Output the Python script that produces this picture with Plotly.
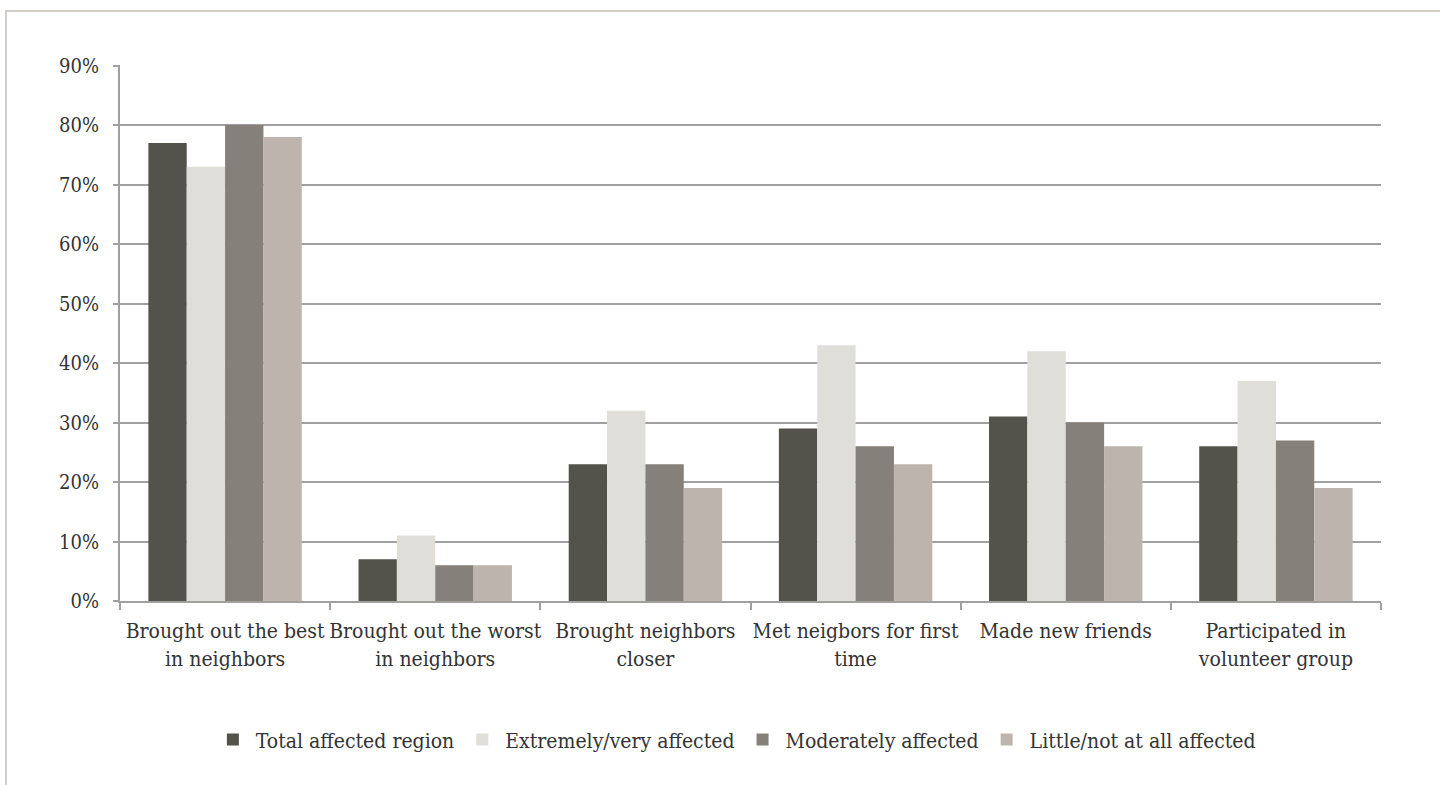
import plotly.graph_objects as go

categories = [
    "Brought out the best<br>in neighbors",
    "Brought out the worst<br>in neighbors",
    "Brought neighbors<br>closer",
    "Met neigbors for first<br>time",
    "Made new friends",
    "Participated in<br>volunteer group",
]
series_names = [
    "Total affected region",
    "Extremely/very affected",
    "Moderately affected",
    "Little/not at all affected",
]
total_affected = [77, 7, 23, 29, 31, 26]
extremely_very = [73, 11, 32, 43, 42, 37]
moderately = [80, 6, 23, 26, 30, 27]
little_not = [78, 6, 19, 23, 26, 19]
y_ticks = [0, 10, 20, 30, 40, 50, 60, 70, 80, 90]

colors = ["#53534b", "#e0ded8", "#858079", "#bdb5ad"]
font_family = "DejaVu Serif Condensed, DejaVu Serif"
text_color = "#333333"

fig = go.Figure()
for name, vals, col in zip(series_names,
                           [total_affected, extremely_very, moderately, little_not],
                           colors):
    fig.add_trace(go.Bar(name=name, x=categories, y=vals, marker_color=col,
                         marker_line_width=0))

fig.update_layout(
    width=1440, height=785,
    margin=dict(l=120, r=59, t=65, b=184),
    paper_bgcolor="white", plot_bgcolor="white",
    barmode="group", bargap=0.27, bargroupgap=0,
    font=dict(family=font_family, size=20, color=text_color),
    showlegend=True,
    legend=dict(orientation="h", x=0.488, xanchor="center", y=-0.259,
                yanchor="middle", font=dict(size=21, color=text_color),
                itemwidth=36, traceorder="normal"),
    xaxis=dict(type="category", tickson="boundaries", ticks="outside",
               ticklen=7, tickcolor="#a0a0a0", tickwidth=2, tickangle=0,
               showline=True, linecolor="#a0a0a0", linewidth=2,
               showgrid=False, automargin=False, ticklabelstandoff=10,
               tickfont=dict(size=21, color=text_color)),
    yaxis=dict(range=[0, 90.1], tickvals=y_ticks,
               ticktext=[f"{v}%" for v in y_ticks],
               ticks="outside", ticklen=5, tickcolor="#a0a0a0", tickwidth=2,
               showline=True, linecolor="#a0a0a0", linewidth=2,
               showgrid=True, gridcolor="#a0a0a0", gridwidth=2,
               zeroline=False, ticklabelstandoff=10, automargin=False,
               tickfont=dict(size=20, color=text_color)),
    shapes=[dict(type="rect", xref="paper", yref="paper",
                 x0=-0.0904, x1=1.2, y0=-0.6, y1=1.1007,
                 line=dict(color="#d3cfc8", width=2), fillcolor="rgba(0,0,0,0)",
                 layer="below")],
)

fig.write_html("out.html")
